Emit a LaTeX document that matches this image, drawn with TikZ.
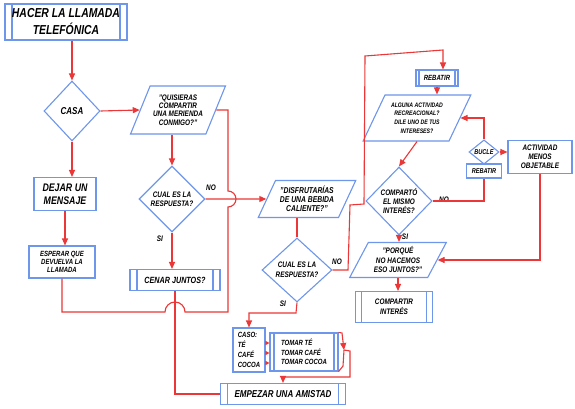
\documentclass[tikz,border=0pt]{standalone}
\usepackage{fontspec}
\setmainfont{Liberation Sans}[FakeStretch=0.8]
\usetikzlibrary{shapes.geometric,arrows.meta,calc}
\definecolor{myblue}{RGB}{110,150,235}
\definecolor{myred}{RGB}{235,55,55}
\tikzset{
 fsz/.style 2 args={font=\bfseries\itshape\fontsize{#1}{#2}\selectfont},
 base/.style={draw=myblue, line width=1.1pt, align=center, inner sep=1pt, text=black, fsz={8}{9}},
 plainbox/.style={base, rectangle},
 procbox/.style={base, rectangle, path picture={\draw[myblue, line width=1.1pt]
   ([xshift=#1]path picture bounding box.north west) -- ([xshift=#1]path picture bounding box.south west)
   ([xshift=-#1]path picture bounding box.north east) -- ([xshift=-#1]path picture bounding box.south east);}},
 procbox/.default=6pt,
 para/.style={base, trapezium, trapezium left angle=60, trapezium right angle=120, trapezium stretches=true, inner sep=0pt},
 dia/.style={base, diamond, inner sep=0pt},
 lbl/.style={fsz={8}{9}, inner sep=0pt},
 conn/.style={draw=myred, line width=1.1pt},
 arr/.style={conn, -{Triangle[length=7pt,width=6pt]}},
 sarr/.style={conn, -{Triangle[length=4pt,width=4pt]}},
}
\begin{document}
\begin{tikzpicture}[x=1pt,y=-1pt]
\fill[white] (0,0) rectangle (575,409);
\useasboundingbox (0,0) rectangle (575,409);

% left column
\node[procbox=7pt, minimum width=122pt, minimum height=36pt, fsz={13}{17}] (hacer) at (66,22) {HACER LA LLAMADA\\TELEFÓNICA};
\node[dia, minimum width=56pt, minimum height=60pt, fsz={10}{12}] (casa) at (72,111) {CASA};
\node[plainbox, minimum width=62pt, minimum height=33pt, fsz={11}{13}] (dejar) at (65,194) {DEJAR UN\\MENSAJE};
\node[plainbox, minimum width=66pt, minimum height=32pt, fsz={7.5}{8}] (esperar) at (62,262) {ESPERAR QUE\\DEVUELVA LA\\LLAMADA};

% second column
\node[para, minimum width=95pt, minimum height=48pt, fsz={8}{8.2}] (quisieras) at (178,110) {"QUISIERAS\\COMPARTIR\\UNA MERIENDA\\CONMIGO?"};
\node[dia, minimum width=66pt, minimum height=66pt, fsz={8}{9}] (cual1) at (172,199) {CUAL ES LA\\RESPUESTA?};
\node[procbox=7pt, minimum width=90pt, minimum height=21pt, fsz={9}{10}] (cenar) at (175,280) {CENAR JUNTOS?};

% third column
\node[para, minimum width=98pt, minimum height=37pt, fsz={8.5}{9}] (disfrutarias) at (307,199) {"DISFRUTARÍAS\\DE UNA BEBIDA\\CALIENTE?"};
\node[dia, minimum width=70pt, minimum height=64pt, fsz={8}{10}] (cual2) at (297,270) {CUAL ES LA\\RESPUESTA?};
\node[plainbox, align=left, minimum width=32pt, minimum height=44pt, fsz={7.5}{10}] (caso) at (249,350) {CASO:\\TÉ\\CAFÉ\\COCOA};
\node[procbox=4pt, align=left, minimum width=68pt, minimum height=38pt, fsz={7.5}{9.5}] (tomar) at (304,352) {TOMAR TÉ\\TOMAR CAFÉ\\TOMAR COCOA};
\node[procbox=7pt, minimum width=125pt, minimum height=21pt, fsz={10}{12}] (empezar) at (283,394) {EMPEZAR UNA AMISTAD};

% right part
\node[procbox=3pt, minimum width=42pt, minimum height=16pt, fsz={7.5}{9}] (rebatir1) at (437,78) {REBATIR};
\node[para, minimum width=108pt, minimum height=46pt, fsz={6.5}{8.7}] (alguna) at (417,118) {ALGUNA ACTIVIDAD\\RECREACIONAL?\\DILE UNO DE TUS\\INTERESES?};
\node[dia, minimum width=66pt, minimum height=68pt, fsz={8}{9}] (comparto) at (399,201) {COMPARTÓ\\EL MISMO\\INTERÉS?};
\node[dia, minimum width=30pt, minimum height=23pt, fsz={7}{8}] (bucle) at (484,152) {BUCLE};
\node[plainbox, minimum width=35pt, minimum height=14pt, fsz={7}{8}] (rebatir2) at (484,171) {REBATIR};
\node[plainbox, minimum width=64pt, minimum height=33pt, fsz={8}{9}] (actividad) at (540,157) {ACTIVIDAD\\MENOS\\OBJETABLE};
\node[para, minimum width=97pt, minimum height=35pt, fsz={8}{9.5}] (porque) at (398,260) {"PORQUÉ\\NO HACEMOS\\ESO JUNTOS?"};
\node[procbox=6pt, minimum width=77pt, minimum height=31pt, fsz={8}{10}] (compartir) at (394,307) {COMPARTIR\\INTERÉS};

% labels
\node[lbl] (no1) at (211,188) {NO};
\node[lbl] (si1) at (160,239) {SI};
\node[lbl] (no2) at (337,262) {NO};
\node[lbl] (si2) at (283,304) {SI};
\node[lbl] (no3) at (444,200) {NO};
\node[lbl] (si3) at (405,237) {SI};

% connectors
\draw[arr] (casa.north |- hacer.south) -- (casa.north);
\draw[arr] (casa.east) -- (quisieras.west);
\draw[arr] (casa.south) -- (casa.south |- dejar.north);
\draw[arr] (dejar.south) -- (dejar.south |- esperar.north);
\draw[conn] (esperar.south) |- (165,312) arc[start angle=180, end angle=360, radius=10]
  -- (228,312) -- (228,207) arc[start angle=90, end angle=-90, radius=8] -- (228,110) -- (quisieras.east);
\draw[arr] (cual1.north |- quisieras.south) -- (cual1.north);
\draw[arr] (cual1.south) -- (cual1.south |- cenar.north);
\draw[arr] (cual1.east) -- (disfrutarias.west);
\draw[conn] (cenar.south) |- (empezar.west);
\draw[conn] (cual2.north |- disfrutarias.south) -- (cual2.north);
\draw[arr] (cual2.east) -- (348,270) -- (350,205) -- (364,204) -- (365,56) -- (443,50) -- ([xshift=6pt]rebatir1.north);
\draw[arr] (cual2.south) -- (296,313) -| (caso.north);
\foreach \dy in {-7,3,13}
  \draw[sarr] ($(caso.east)+(0,\dy)$) -- ($(caso.east -| tomar.west)+(0,\dy)$);
\draw[arr] (tomar.north east) -- (342,333) -- (344,350);
\draw[conn] (344,350) -- (343,366) -- (tomar.south east);
\draw[arr] (344,350) -- (350,351) -- (350,377) -- (283,377) -- (empezar.north);
\draw[arr] (rebatir1.south) -- (rebatir1.south |- alguna.north);
\draw[arr] (alguna.south) -- (comparto.north);
\draw[conn] (comparto.east) -| (rebatir2.south);
\draw[arr] (bucle.north) |- (alguna.east);
\draw[arr] (bucle.east) -- (actividad.west |- bucle.east);
\draw[arr] (actividad.south) |- (porque.east);
\draw[arr] (comparto.south) -- (comparto.south |- porque.north);
\draw[arr] (porque.south) -- (porque.south |- compartir.north);
\end{tikzpicture}
\end{document}
